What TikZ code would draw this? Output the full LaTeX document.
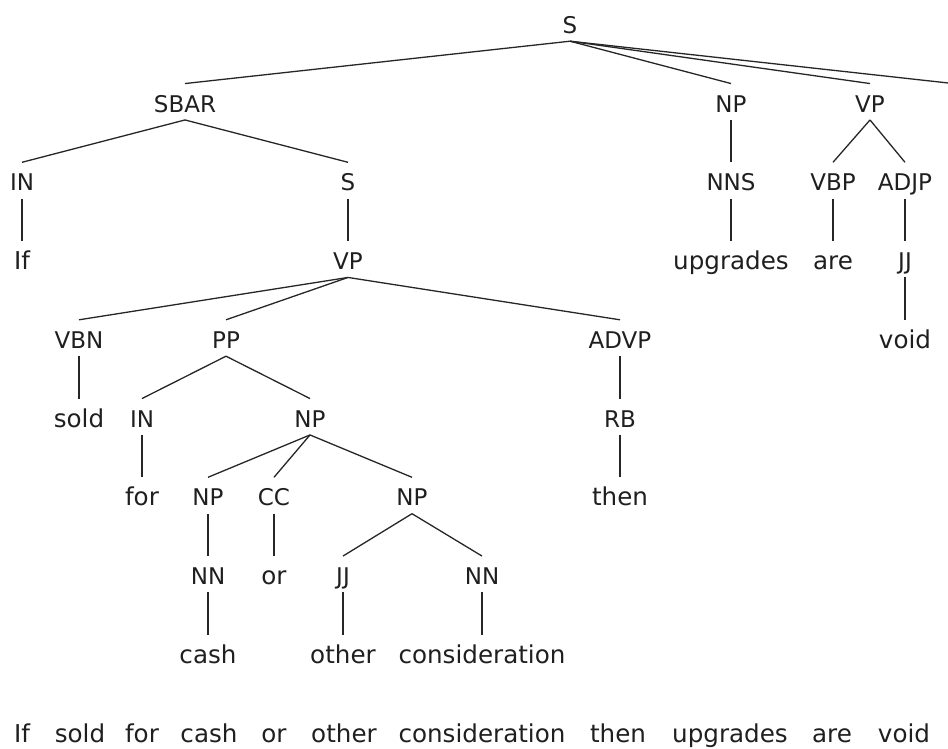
\documentclass[tikz,border=0pt]{standalone}
\usepackage{fontspec}
\setmainfont{DejaVu Sans}
\begin{document}
\begin{tikzpicture}[x=1pt,y=-1pt,
  every node/.style={anchor=base,inner sep=0pt,text height=28.3pt,text depth=7.7pt,text=black!88},
  tag/.style={font=\fontsize{23}{27}\selectfont},
  leaf/.style={font=\fontsize{24.6}{29}\selectfont},
  sentence/.style={leaf,text depth=0pt},
  branch/.style={draw=black!85,line width=1.3pt}]
\useasboundingbox (0,0) rectangle (948,749);
\clip (0,0) rectangle (948,749);

% row baselines: 33.3 + 78.75 k
% row 0
\node[tag] (s0) at (570,33.3) {S};
% row 1
\node[tag] (sbar) at (185,112.05) {SBAR};
\node[tag] (np1) at (731,112.05) {NP};
\node[tag] (vp1) at (870,112.05) {VP};
\coordinate (punct) at (955,83.75);
% row 2
\node[tag] (in1) at (22,190.8) {IN};
\node[tag] (s2) at (348,190.8) {S};
\node[tag] (nns) at (731,190.8) {NNS};
\node[tag] (vbp) at (833,190.8) {VBP};
\node[tag] (adjp) at (905,190.8) {ADJP};
% row 3
\node[leaf] (if) at (22,269.55) {If};
\node[tag] (vp3) at (348,269.55) {VP};
\node[leaf] (upgrades) at (731,269.55) {upgrades};
\node[leaf] (are) at (833,269.55) {are};
\node[tag] (jj1) at (905,269.55) {JJ};
% row 4
\node[tag] (vbn) at (79,348.3) {VBN};
\node[tag] (pp) at (226,348.3) {PP};
\node[tag] (advp) at (620,348.3) {ADVP};
\node[leaf] (void) at (905,348.3) {void};
% row 5
\node[leaf] (sold) at (79,427.05) {sold};
\node[tag] (in2) at (142,427.05) {IN};
\node[tag] (np5) at (310,427.05) {NP};
\node[tag] (rb) at (620,427.05) {RB};
% row 6
\node[leaf] (for) at (142,505.8) {for};
\node[tag] (np6a) at (208,505.8) {NP};
\node[tag] (cc) at (274,505.8) {CC};
\node[tag] (np6b) at (412,505.8) {NP};
\node[leaf] (then) at (620,505.8) {then};
% row 7
\node[tag] (nn1) at (208,584.55) {NN};
\node[leaf] (or) at (274,584.55) {or};
\node[tag] (jj2) at (343,584.55) {JJ};
\node[tag] (nn2) at (482,584.55) {NN};
% row 8
\node[leaf] (cash) at (208,663.3) {cash};
\node[leaf] (other) at (343,663.3) {other};
\node[leaf] (consideration) at (482,663.3) {consideration};

% the sentence
\node[sentence] (w1) at (22,742.5) {If};
\node[sentence] (w2) at (80,742.5) {sold};
\node[sentence] (w3) at (142,742.5) {for};
\node[sentence] (w4) at (209,742.5) {cash};
\node[sentence] (w5) at (274,742.5) {or};
\node[sentence] (w6) at (344,742.5) {other};
\node[sentence] (w7) at (482,742.5) {consideration};
\node[sentence] (w8) at (618,742.5) {then};
\node[sentence] (w9) at (730,742.5) {upgrades};
\node[sentence] (w10) at (832,742.5) {are};
\node[sentence] (w11) at (904,742.5) {void};

% branches
\draw[branch] (s0.south) -- (sbar.north);
\draw[branch] (s0.south) -- (np1.north);
\draw[branch] (s0.south) -- (vp1.north);
\draw[branch] (s0.south) -- (punct);
\draw[branch] (sbar.south) -- (in1.north);
\draw[branch] (sbar.south) -- (s2.north);
\draw[branch] (in1.south) -- (if.north);
\draw[branch] (s2.south) -- (vp3.north);
\draw[branch] (np1.south) -- (nns.north);
\draw[branch] (nns.south) -- (upgrades.north);
\draw[branch] (vp1.south) -- (vbp.north);
\draw[branch] (vp1.south) -- (adjp.north);
\draw[branch] (vbp.south) -- (are.north);
\draw[branch] (adjp.south) -- (jj1.north);
\draw[branch] (jj1.south) -- (void.north);
\draw[branch] (vp3.south) -- (vbn.north);
\draw[branch] (vp3.south) -- (pp.north);
\draw[branch] (vp3.south) -- (advp.north);
\draw[branch] (vbn.south) -- (sold.north);
\draw[branch] (pp.south) -- (in2.north);
\draw[branch] (pp.south) -- (np5.north);
\draw[branch] (in2.south) -- (for.north);
\draw[branch] (advp.south) -- (rb.north);
\draw[branch] (rb.south) -- (then.north);
\draw[branch] (np5.south) -- (np6a.north);
\draw[branch] (np5.south) -- (cc.north);
\draw[branch] (np5.south) -- (np6b.north);
\draw[branch] (np6a.south) -- (nn1.north);
\draw[branch] (cc.south) -- (or.north);
\draw[branch] (np6b.south) -- (jj2.north);
\draw[branch] (np6b.south) -- (nn2.north);
\draw[branch] (nn1.south) -- (cash.north);
\draw[branch] (jj2.south) -- (other.north);
\draw[branch] (nn2.south) -- (consideration.north);
\end{tikzpicture}
\end{document}
